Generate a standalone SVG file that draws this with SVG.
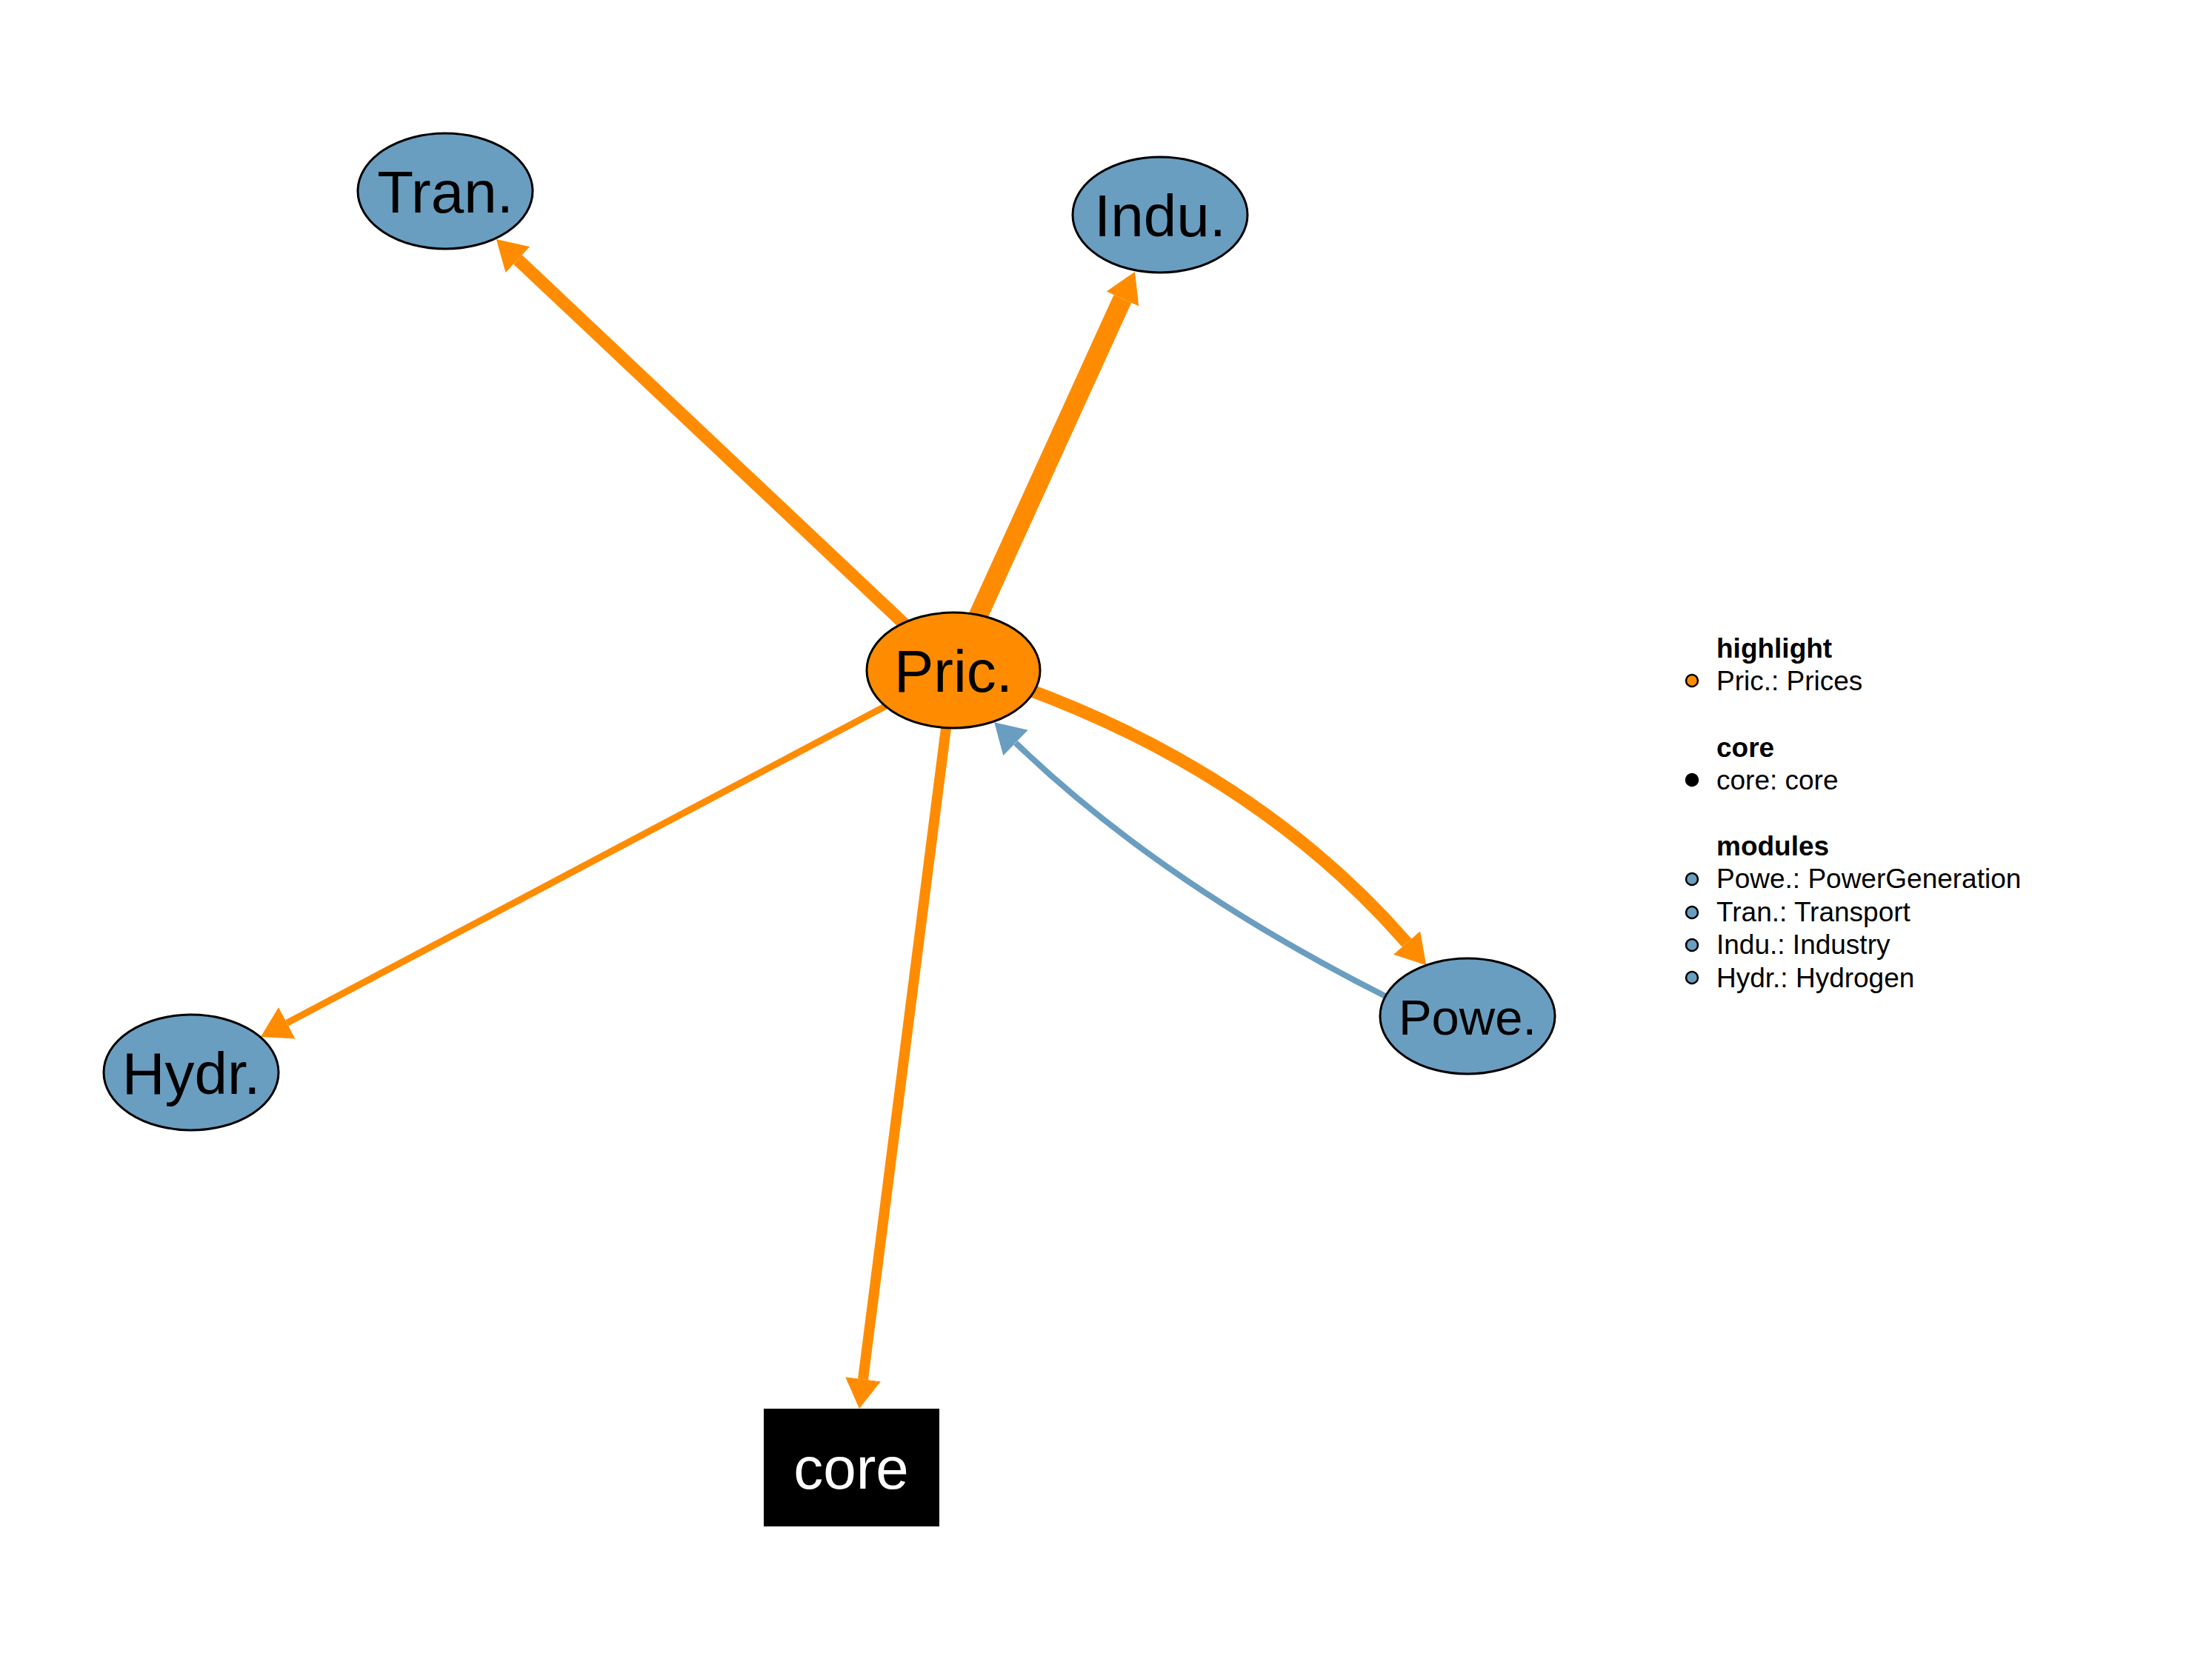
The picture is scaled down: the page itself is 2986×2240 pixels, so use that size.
<svg xmlns="http://www.w3.org/2000/svg" width="2986" height="2240" viewBox="0 0 2986 2240">
  <defs>
    <style>
      .edge { fill: none; stroke-linecap: butt; }
      .hi { stroke: #FF8C00; }
      .mod { stroke: #6A9EC0; }
      .node { stroke: #000; stroke-width: 3; }
      .lbl { font-family: "Liberation Sans", Arial, sans-serif; font-size: 80px; text-anchor: middle; fill: #000; }
      .leg { font-family: "Liberation Sans", Arial, sans-serif; font-size: 37px; fill: #000; }
      .legt { font-family: "Liberation Sans", Arial, sans-serif; font-size: 37px; font-weight: bold; fill: #000; }
      .dot { stroke: #000; stroke-width: 2.5; }
    </style>
    <marker id="ah-orange" viewBox="0 0 40 48" refX="0" refY="24" markerWidth="40" markerHeight="48" markerUnits="userSpaceOnUse" orient="auto">
      <path d="M0,0 L40,24 L0,48 Z" fill="#FF8C00"/>
    </marker>
    <marker id="ah-blue" viewBox="0 0 40 48" refX="0" refY="24" markerWidth="40" markerHeight="48" markerUnits="userSpaceOnUse" orient="auto">
      <path d="M0,0 L40,24 L0,48 Z" fill="#6A9EC0"/>
    </marker>
  </defs>

  <rect width="2986" height="2240" fill="#fff"/>

  <!-- connectors -->
  <g id="edges">
    <path id="e-pric-tran" class="edge hi" stroke-width="17" d="M1287,905 L699,350.5" marker-end="url(#ah-orange)"/>
    <path id="e-pric-indu" class="edge hi" stroke-width="26" d="M1287,905 L1515.4,403.4" marker-end="url(#ah-orange)"/>
    <path id="e-pric-hydr" class="edge hi" stroke-width="9" d="M1287,905 L387.3,1381.3" marker-end="url(#ah-orange)"/>
    <path id="e-pric-core" class="edge hi" stroke-width="14" d="M1287,905 L1165,1862.3" marker-end="url(#ah-orange)"/>
    <path id="e-pric-powe" class="edge hi" stroke-width="17" d="M1380,928 Q1700,1045 1899,1273" marker-end="url(#ah-orange)"/>
    <path id="e-powe-pric" class="edge mod" stroke-width="8" d="M1880,1350 Q1570,1195 1371,1003" marker-end="url(#ah-blue)"/>
  </g>

  <!-- nodes -->
  <g id="node-pric">
    <ellipse class="node" cx="1287" cy="905" rx="117" ry="78" fill="#FF8C00"/>
    <text class="lbl" x="1287" y="934">Pric.</text>
  </g>
  <g id="node-tran">
    <ellipse class="node" cx="601" cy="258" rx="118" ry="78" fill="#6A9EC0"/>
    <text class="lbl" x="601" y="287">Tran.</text>
  </g>
  <g id="node-indu">
    <ellipse class="node" cx="1566" cy="290" rx="118" ry="78" fill="#6A9EC0"/>
    <text class="lbl" x="1566" y="319">Indu.</text>
  </g>
  <g id="node-powe">
    <ellipse class="node" cx="1981" cy="1372" rx="118" ry="78" fill="#6A9EC0"/>
    <text class="lbl" x="1981" y="1397" style="font-size:67px">Powe.</text>
  </g>
  <g id="node-hydr">
    <ellipse class="node" cx="258" cy="1448" rx="118" ry="78" fill="#6A9EC0"/>
    <text class="lbl" x="258" y="1477">Hydr.</text>
  </g>
  <g id="node-core">
    <rect x="1031" y="1902" width="237" height="159" fill="#000"/>
    <text class="lbl" x="1149" y="2010" style="fill:#fff">core</text>
  </g>

  <!-- legend -->
  <g id="legend">
    <text class="legt" x="2317" y="888">highlight</text>
    <circle class="dot" cx="2284" cy="919" r="8" fill="#FF8C00"/>
    <text class="leg" x="2317" y="932">Pric.: Prices</text>

    <text class="legt" x="2317" y="1022">core</text>
    <circle class="dot" cx="2284" cy="1053" r="8" fill="#000"/>
    <text class="leg" x="2317" y="1066">core: core</text>

    <text class="legt" x="2317" y="1155">modules</text>
    <circle class="dot" cx="2284" cy="1187" r="8" fill="#6A9EC0"/>
    <text class="leg" x="2317" y="1199">Powe.: PowerGeneration</text>
    <circle class="dot" cx="2284" cy="1232" r="8" fill="#6A9EC0"/>
    <text class="leg" x="2317" y="1244">Tran.: Transport</text>
    <circle class="dot" cx="2284" cy="1276" r="8" fill="#6A9EC0"/>
    <text class="leg" x="2317" y="1288">Indu.: Industry</text>
    <circle class="dot" cx="2284" cy="1320" r="8" fill="#6A9EC0"/>
    <text class="leg" x="2317" y="1333">Hydr.: Hydrogen</text>
  </g>
</svg>
